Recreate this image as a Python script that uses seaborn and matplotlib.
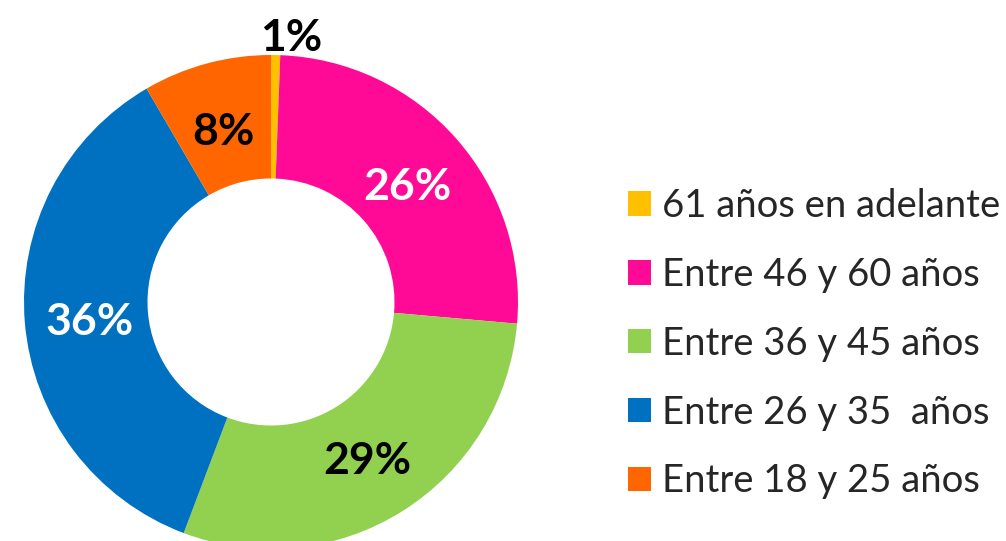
import numpy as np
import matplotlib
matplotlib.use("Agg")
import matplotlib.pyplot as plt
import seaborn as sns

categories = ["61 años en adelante", "Entre 46 y 60 años", "Entre 36 y 45 años",
              "Entre 26 y 35  años", "Entre 18 y 25 años"]
values = [0.6, 25.8, 29.35, 35.85, 8.4]
labels = ["1%", "26%", "29%", "36%", "8%"]
colors = ["#FFC000", "#FF0A96", "#92D050", "#0070C0", "#FF6600"]
label_colors = ["black", "white", "black", "white", "black"]

sns.set_theme(style="white")
plt.rcParams["font.family"] = ["Lato", "DejaVu Sans"]
palette = sns.color_palette(colors)

W, H = 1006, 541
fig = plt.figure(figsize=(W / 100, H / 100), dpi=100)
cx, cy, r = 271, 302, 247
ax = fig.add_axes([(cx - r) / W, (H - cy - r) / H, 2 * r / W, 2 * r / H])
ax.axis("off")

wedges, _ = ax.pie(values, colors=palette, startangle=90, counterclock=False,
                   radius=1.0, wedgeprops=dict(width=0.5, edgecolor="none"))
ax.set_xlim(-1, 1)
ax.set_ylim(-1, 1)
ax.set_aspect("equal")
for w in wedges:
    w.set_clip_on(False)

for w, lab, col in zip(wedges, labels, label_colors):
    theta = np.deg2rad((w.theta1 + w.theta2) / 2)
    if w.theta2 - w.theta1 < 5:
        x, y = 1.07 * np.cos(theta) + 0.06, 1.07 * np.sin(theta)
    else:
        x, y = 0.735 * np.cos(theta), 0.735 * np.sin(theta) - 0.02
    ax.text(x, y, lab, ha="center", va="center", fontsize=32,
            fontweight="bold", color=col, clip_on=False)

leg = fig.legend(wedges, categories, loc="upper left",
                 bbox_to_anchor=(628 / W, 1 - 188 / H), frameon=False,
                 fontsize=27.5, handlelength=0.6, handleheight=0.6,
                 handletextpad=0.3, labelspacing=0.86, borderpad=0,
                 borderaxespad=0)

fig.savefig("out.png", dpi=100, facecolor="white")
